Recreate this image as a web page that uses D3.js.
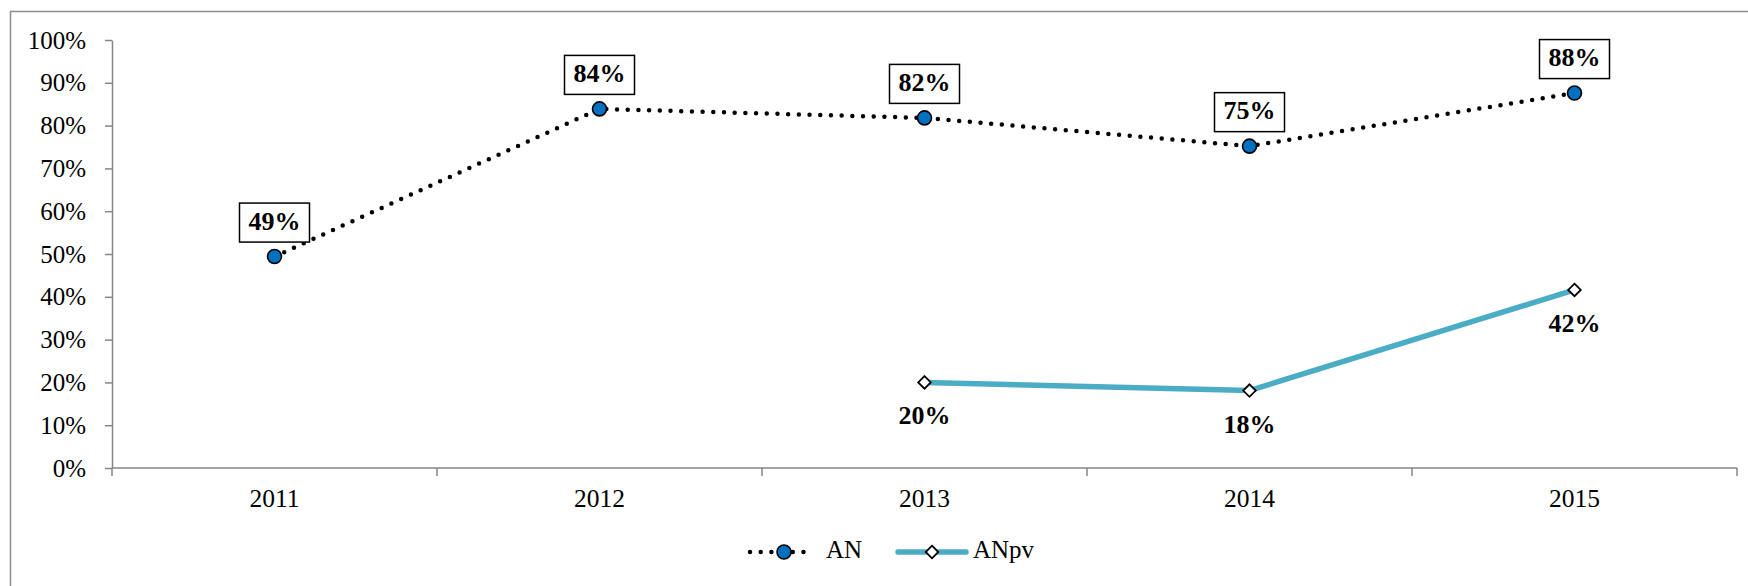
<!DOCTYPE html>
<html>
<head>
<meta charset="utf-8">
<script src="https://cdn.jsdelivr.net/npm/d3@7"></script>
<style>
  body { margin: 0; background: #fff; }
  svg { display: block; font-family: "Liberation Serif", "Times New Roman", serif; }
</style>
</head>
<body>
<div id="chart"></div>
<script>
const width = 1748, height = 586;
const margin = {top: 40, right: 11, bottom: 118, left: 112};

const years = ["2011", "2012", "2013", "2014", "2015"];
const anValues = [0.494, 0.839, 0.818, 0.752, 0.876];
const anpvValues = [null, null, 0.200, 0.181, 0.416];
const yTicks = [0, 0.1, 0.2, 0.3, 0.4, 0.5, 0.6, 0.7, 0.8, 0.9, 1];
const seriesNames = ["AN", "ANpv"];

const svg = d3.select('#chart').append('svg')
  .attr('width', width).attr('height', height)
  .attr('viewBox', `0 0 ${width} ${height}`);

// outer frame (open on right/bottom like the crop)
svg.append('path')
  .attr('d', `M10.5,${height} V11.5 H${width}`)
  .attr('fill', 'none').attr('stroke', '#8c8c8c').attr('stroke-width', 1.5);

const xScale = d3.scaleBand()
  .domain(years)
  .range([margin.left, width - margin.right]);

const yScale = d3.scaleLinear()
  .domain([0, 1])
  .range([height - margin.bottom, margin.top]);

const xc = d => xScale(d) + xScale.bandwidth() / 2;

// y axis
const yAxis = svg.append('g')
  .attr('transform', `translate(${margin.left},0)`)
  .call(d3.axisLeft(yScale).tickValues(yTicks).tickSize(7).tickSizeOuter(0)
    .tickFormat(d => Math.round(d * 100) + '%'));
yAxis.selectAll('line, path').attr('stroke', '#868686').attr('stroke-width', 1.5);
yAxis.selectAll('text').attr('font-size', 25).attr('font-family', 'Liberation Serif')
  .attr('fill', '#000').attr('x', -26);

// x axis with ticks at category boundaries
const xAxisG = svg.append('g')
  .attr('transform', `translate(0,${yScale(0)})`);
xAxisG.append('line')
  .attr('x1', margin.left).attr('x2', width - margin.right)
  .attr('stroke', '#868686').attr('stroke-width', 1.5);
const bounds = years.map(y => xScale(y)).concat([xScale(years[years.length - 1]) + xScale.bandwidth()]);
xAxisG.selectAll('.tk').data(bounds).join('line')
  .attr('x1', d => d).attr('x2', d => d).attr('y1', 0).attr('y2', 8)
  .attr('stroke', '#868686').attr('stroke-width', 1.5);
xAxisG.selectAll('.lbl').data(years).join('text')
  .attr('x', d => xc(d)).attr('y', 33)
  .attr('text-anchor', 'middle').attr('dominant-baseline', 'middle')
  .attr('font-size', 25.5).text(d => d);

// AN dotted line
const anData = years.map((y, i) => ({year: y, v: anValues[i]}));
const anpvData = years.map((y, i) => ({year: y, v: anpvValues[i]})).filter(d => d.v != null);

const line = d3.line().x(d => xc(d.year)).y(d => yScale(d.v));

svg.append('path').datum(anData)
  .attr('d', line).attr('fill', 'none')
  .attr('stroke', '#000').attr('stroke-width', 4.5)
  .attr('stroke-linecap', 'round').attr('stroke-dasharray', '0 10.7');

svg.append('path').datum(anpvData)
  .attr('d', line).attr('fill', 'none')
  .attr('stroke', '#4BACC6').attr('stroke-width', 5.5)
  .attr('stroke-linecap', 'round');

// markers
svg.selectAll('.an-dot').data(anData).join('circle')
  .attr('cx', d => xc(d.year)).attr('cy', d => yScale(d.v)).attr('r', 7)
  .attr('fill', '#0070C0').attr('stroke', '#000').attr('stroke-width', 1.6);

const diamond = d3.symbol().type(d3.symbolDiamond2).size(100);
svg.selectAll('.anpv-dot').data(anpvData).join('path')
  .attr('d', diamond)
  .attr('transform', d => `translate(${xc(d.year)},${yScale(d.v)})`)
  .attr('fill', '#fff').attr('stroke', '#000').attr('stroke-width', 1.8);

// AN labels with boxes
const anLbl = svg.selectAll('.an-lbl').data(anData).join('g')
  .attr('transform', d => `translate(${xc(d.year)},${yScale(d.v) - 34})`);
anLbl.append('rect')
  .attr('x', -35).attr('y', -19.5).attr('width', 70).attr('height', 39)
  .attr('fill', '#fff').attr('stroke', '#000').attr('stroke-width', 1.5);
anLbl.append('text')
  .attr('text-anchor', 'middle').attr('dominant-baseline', 'middle').attr('y', 1)
  .attr('font-size', 26).attr('font-weight', 'bold')
  .text(d => Math.round(d.v * 100) + '%');

// ANpv labels below
svg.selectAll('.anpv-lbl').data(anpvData).join('text')
  .attr('x', d => xc(d.year)).attr('y', d => yScale(d.v) + 36)
  .attr('text-anchor', 'middle').attr('dominant-baseline', 'middle')
  .attr('font-size', 26).attr('font-weight', 'bold')
  .text(d => Math.round(d.v * 100) + '%');

// legend
const ly = 552;
const leg = svg.append('g');
leg.append('line').attr('x1', 750).attr('x2', 812).attr('y1', ly).attr('y2', ly)
  .attr('stroke', '#000').attr('stroke-width', 4.5)
  .attr('stroke-linecap', 'round').attr('stroke-dasharray', '0 10.7');
leg.append('circle').attr('cx', 784).attr('cy', ly).attr('r', 7)
  .attr('fill', '#0070C0').attr('stroke', '#000').attr('stroke-width', 1.6);
leg.append('text').attr('x', 826).attr('y', ly).attr('dominant-baseline', 'middle')
  .attr('font-size', 25).text(seriesNames[0]);
leg.append('line').attr('x1', 898).attr('x2', 966).attr('y1', ly).attr('y2', ly)
  .attr('stroke', '#4BACC6').attr('stroke-width', 5.5).attr('stroke-linecap', 'round');
leg.append('path').attr('d', diamond)
  .attr('transform', `translate(932,${ly})`)
  .attr('fill', '#fff').attr('stroke', '#000').attr('stroke-width', 1.8);
leg.append('text').attr('x', 973).attr('y', ly).attr('dominant-baseline', 'middle')
  .attr('font-size', 25).text(seriesNames[1]);
</script>
</body>
</html>
